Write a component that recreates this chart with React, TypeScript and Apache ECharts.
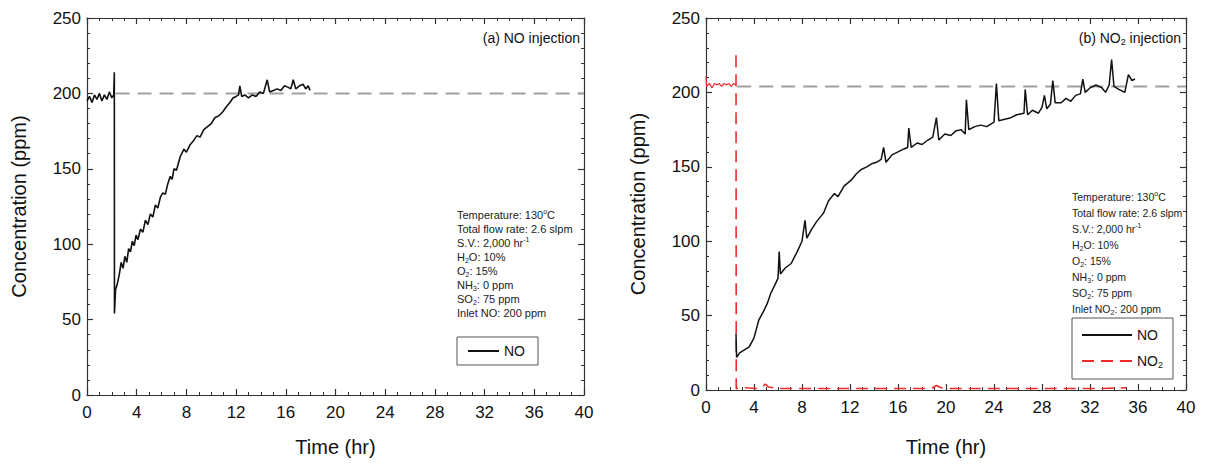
import React, { useEffect, useRef } from "react";
import * as echarts from "echarts";

const FONT = "Liberation Sans, Arial, sans-serif";

// (a) NO injection — NO outlet concentration (time hr, ppm)
const leftNO: [number, number][] = [
  [0, 195], [0.2, 198], [0.4, 194], [0.6, 199], [0.8, 196], [1.0, 200], [1.2, 195], [1.4, 199],
  [1.6, 196], [1.8, 201], [2.0, 197], [2.15, 199], [2.2, 214], [2.21, 54], [2.3, 70], [2.45, 74],
  [2.6, 80], [2.75, 88], [2.9, 84], [3.05, 92], [3.2, 88], [3.35, 97], [3.5, 95], [3.65, 102],
  [3.8, 99], [3.95, 106], [4.1, 103], [4.3, 110], [4.5, 108], [4.7, 116], [4.9, 113], [5.1, 120],
  [5.3, 118], [5.5, 126], [5.7, 124], [5.9, 131], [6.1, 134], [6.3, 133], [6.5, 140], [6.7, 145],
  [6.85, 143], [7.0, 150], [7.2, 149], [7.5, 158], [7.8, 163], [8.0, 161], [8.3, 166], [8.6, 169],
  [8.85, 172], [9.1, 171], [9.4, 176], [9.7, 178], [10.0, 180], [10.3, 184], [10.6, 185],
  [10.95, 188], [11.2, 191], [11.5, 194], [11.75, 197], [12.0, 198], [12.2, 199], [12.3, 205],
  [12.45, 198], [12.7, 199], [13.0, 197], [13.3, 199], [13.6, 198], [13.9, 201], [14.2, 200],
  [14.5, 209], [14.7, 201], [15.0, 202], [15.3, 203], [15.6, 202], [15.9, 205], [16.2, 204],
  [16.4, 203], [16.6, 209], [16.8, 203], [17.1, 205], [17.4, 206], [17.6, 203], [17.8, 205], [17.95, 202],
];

// (b) NO2 injection — NO outlet concentration
const rightNO: [number, number][] = [
  [2.5, 38], [2.55, 22], [2.8, 25], [3.2, 27], [3.6, 29], [4.0, 35], [4.4, 47], [4.8, 53], [5.1, 58],
  [5.4, 65], [5.7, 70], [6.0, 75], [6.1, 93], [6.2, 78], [6.6, 82], [7.1, 85], [7.6, 93], [8.0, 100],
  [8.25, 114], [8.4, 102], [8.8, 108], [9.2, 113], [9.6, 117], [9.8, 119], [10.2, 127], [10.7, 132],
  [11.0, 130], [11.5, 137], [12.1, 141], [12.5, 145], [12.9, 148], [13.4, 150], [13.8, 152],
  [14.2, 153], [14.6, 155], [14.8, 163], [15.0, 153], [15.5, 158], [16.0, 160], [16.5, 162],
  [16.8, 163], [16.9, 176], [17.1, 163], [17.6, 166], [18.0, 165], [18.5, 168], [18.9, 170],
  [19.2, 183], [19.4, 168], [19.9, 172], [20.4, 171], [20.8, 174], [21.25, 175], [21.6, 172],
  [21.7, 195], [21.9, 175], [22.4, 177], [22.9, 178], [23.4, 177], [24.0, 180], [24.2, 206],
  [24.4, 181], [24.9, 182], [25.4, 183], [25.9, 185], [26.5, 186], [26.6, 202], [26.8, 185],
  [27.2, 188], [27.7, 186], [28.0, 190], [28.2, 198], [28.4, 189], [28.7, 192], [28.9, 208],
  [29.1, 193], [29.6, 193], [30.0, 196], [30.4, 194], [30.8, 198], [31.2, 199], [31.4, 209],
  [31.6, 200], [32.0, 203], [32.5, 205], [33.0, 203], [33.3, 200], [33.6, 205], [33.8, 222],
  [34.0, 204], [34.4, 202], [34.9, 200], [35.2, 212], [35.5, 208], [35.75, 209],
];

// (b) NO2 outlet concentration before injection switch
const rightNO2Pre: [number, number][] = [
  [0, 211], [0.05, 204], [0.3, 206], [0.5, 203], [0.7, 206], [0.9, 205], [1.1, 206], [1.3, 204],
  [1.5, 206], [1.7, 205], [1.9, 206], [2.1, 204], [2.3, 206], [2.5, 205],
];
// (b) NO2 outlet concentration after switch
const rightNO2: [number, number][] = [
  [2.5, 225], [2.52, 1], [3.2, 1.5], [4.2, 1], [4.7, 2], [4.95, 4], [5.2, 2], [6, 1], [10, 1],
  [15, 1], [18.8, 1], [19.2, 3], [19.6, 1.5], [20, 1], [25, 1], [30, 1], [33, 1], [35, 1.5],
];

// inlet reference levels
const leftRef: [number, number][] = [[2.3, 200], [40, 200]];
const rightRef: [number, number][] = [[2.6, 204], [40, 204]];

const leftNotes: string[] = [
  "{n|Temperature: 130}{p|o}{n|C}",
  "{n|Total flow rate: 2.6 slpm}",
  "{n|S.V.: 2,000 hr}{p|-1}",
  "{n|H}{s|2}{n|O: 10%}",
  "{n|O}{s|2}{n|: 15%}",
  "{n|NH}{s|3}{n|: 0 ppm}",
  "{n|SO}{s|2}{n|: 75 ppm}",
  "{n|Inlet NO: 200 ppm}",
];
const rightNotes: string[] = [
  "{n|Temperature: 130}{p|o}{n|C}",
  "{n|Total flow rate: 2.6 slpm}",
  "{n|S.V.: 2,000 hr}{p|-1}",
  "{n|H}{s|2}{n|O: 10%}",
  "{n|O}{s|2}{n|: 15%}",
  "{n|NH}{s|3}{n|: 0 ppm}",
  "{n|SO}{s|2}{n|: 75 ppm}",
  "{n|Inlet NO}{s|2}{n|: 200 ppm}",
];

function noteRich(size: number) {
  return {
    n: { fontSize: size, fontFamily: FONT, fill: "#222", lineHeight: 14, verticalAlign: "middle" },
    s: { fontSize: 7, fontFamily: FONT, fill: "#222", lineHeight: 7, verticalAlign: "bottom" },
    p: { fontSize: 7, fontFamily: FONT, fill: "#222", lineHeight: 7, verticalAlign: "top" },
  };
}

const axisColor = "#333";

function xAxes(gi: number, nameGap: number) {
  const common: any = {
    gridIndex: gi, type: "value", min: 0, max: 40, interval: 4,
    axisLine: { show: true, onZero: false, lineStyle: { color: axisColor, width: 1.2 } },
    axisTick: { show: true, inside: true, length: 6, lineStyle: { color: axisColor, width: 1.2 } },
    minorTick: { show: true, splitNumber: 4, length: 3, lineStyle: { color: axisColor, width: 1 } },
    splitLine: { show: false }, minorSplitLine: { show: false },
  };
  return [
    {
      ...common, position: "bottom",
      axisLabel: { fontSize: 17, color: "#111", margin: 9, fontFamily: FONT },
      name: "Time (hr)", nameLocation: "middle", nameGap,
      nameTextStyle: { fontSize: 20, color: "#111", fontFamily: FONT },
    },
    { ...common, position: "top", axisLabel: { show: false } },
  ];
}

function yAxes(gi: number) {
  const common: any = {
    gridIndex: gi, type: "value", min: 0, max: 250, interval: 50,
    axisLine: { show: true, onZero: false, lineStyle: { color: axisColor, width: 1.2 } },
    axisTick: { show: true, inside: true, length: 6, lineStyle: { color: axisColor, width: 1.2 } },
    minorTick: { show: true, splitNumber: 5, length: 3, lineStyle: { color: axisColor, width: 1 } },
    splitLine: { show: false }, minorSplitLine: { show: false },
  };
  return [
    {
      ...common, position: "left",
      axisLabel: { fontSize: 17, color: "#111", margin: 6, fontFamily: FONT },
      name: "Concentration (ppm)", nameLocation: "middle", nameGap: 58, nameRotate: 90,
      nameTextStyle: { fontSize: 20, color: "#111", fontFamily: FONT },
    },
    { ...common, position: "right", axisLabel: { show: false } },
  ];
}

function lineSeries(name: string, data: [number, number][], ai: number, color: string, width: number, type: any) {
  return {
    type: "line", name, data, xAxisIndex: ai, yAxisIndex: ai, symbol: "none", showSymbol: false,
    lineStyle: { color, width, type }, itemStyle: { color }, silent: true, z: 3,
  };
}

function notesGraphic(lines: string[], x: number, y0: number, dy: number, size: number) {
  return lines.map((t, i) => ({
    type: "text", x, y: y0 + i * dy, silent: true,
    style: { text: t, rich: noteRich(size), align: "left", verticalAlign: "middle" },
  }));
}

export default function App() {
  const ref = useRef<HTMLDivElement>(null);
  useEffect(() => {
    if (!ref.current) return;
    const chart = echarts.init(ref.current, undefined, { renderer: "svg" });
    const legendText = {
      fontSize: 14, fontFamily: FONT, color: "#111",
      rich: {
        m: { fontSize: 14, fontFamily: FONT, color: "#111", lineHeight: 16, verticalAlign: "middle" },
        s: { fontSize: 9, fontFamily: FONT, color: "#111", lineHeight: 9, verticalAlign: "bottom" },
      },
    };
    const fmt = (n: string) => (n === "NO2" ? "{m|NO}{s|2}" : "{m|" + n + "}");
    const hideSymbol = { opacity: 0, borderWidth: 0 };
    chart.setOption({
      animation: false,
      backgroundColor: "#fff",
      grid: [
        { left: 87, top: 18, width: 497, height: 377 },
        { left: 706, top: 18, width: 480, height: 372 },
      ],
      xAxis: [...xAxes(0, 42), ...xAxes(1, 47)],
      yAxis: [...yAxes(0), ...yAxes(1)],
      legend: [
        {
          data: [{ name: "NO" }], left: 457, top: 337, orient: "vertical",
          padding: [7, 13, 7, 10], borderColor: "#555", borderWidth: 1,
          itemWidth: 31, itemHeight: 14, textStyle: legendText, formatter: fmt, selectedMode: false,
          itemStyle: hideSymbol,
        },
        {
          data: [{ name: "NO" }, { name: "NO2" }], left: 1072, top: 318, orient: "vertical",
          padding: [10, 10, 10, 9], borderColor: "#555", borderWidth: 1, itemGap: 12,
          itemWidth: 50, itemHeight: 14, textStyle: legendText, formatter: fmt, selectedMode: false,
          itemStyle: hideSymbol,
        },
      ],
      graphic: [
        {
          type: "text", x: 580, y: 38, silent: true,
          style: { text: "(a) NO injection", fontSize: 14, fontFamily: FONT, fill: "#111", align: "right", verticalAlign: "middle" },
        },
        {
          type: "text", x: 1181, y: 38, silent: true,
          style: {
            text: "{t|(b) NO}{s|2}{t| injection}", align: "right", verticalAlign: "middle",
            rich: {
              t: { fontSize: 14, fontFamily: FONT, fill: "#111", lineHeight: 16, verticalAlign: "middle" },
              s: { fontSize: 9, fontFamily: FONT, fill: "#111", lineHeight: 9, verticalAlign: "bottom" },
            },
          },
        },
        ...notesGraphic(leftNotes, 457, 215, 14, 11),
        ...notesGraphic(rightNotes, 1072, 197, 16, 10.5),
      ],
      series: [
        lineSeries("ref-a", leftRef, 0, "#a0a0a0", 2, [14, 8]),
        lineSeries("NO", leftNO, 0, "#111", 1.6, "solid"),
        lineSeries("ref-b", rightRef, 2, "#a0a0a0", 2, [14, 8]),
        lineSeries("NO2-pre", rightNO2Pre, 2, "#ee2a2a", 1.2, "solid"),
        lineSeries("NO2", rightNO2, 2, "#ee2a2a", 1.6, [12, 7]),
        lineSeries("NO", rightNO, 2, "#111", 1.5, "solid"),
      ],
    });
    return () => chart.dispose();
  }, []);
  return <div ref={ref} style={{ position: "fixed", left: 0, top: 0, width: 1225, height: 467 }} />;
}
